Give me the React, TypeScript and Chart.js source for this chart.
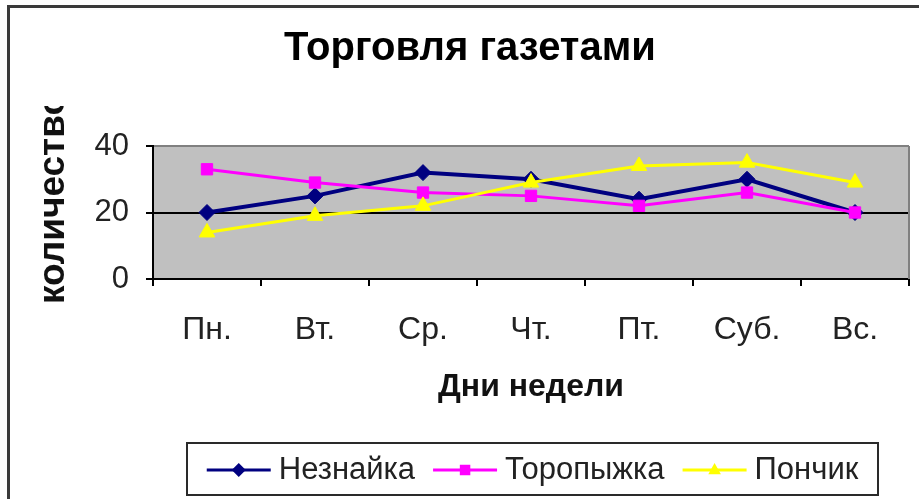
import React, { useEffect, useRef } from "react";
import { Chart, registerables } from "chart.js";

Chart.register(...registerables);

const TITLE = "Торговля газетами";
const X_TITLE = "Дни недели";
const Y_TITLE = "количество";
const DAYS = ["Пн.", "Вт.", "Ср.", "Чт.", "Пт.", "Суб.", "Вс."];
const SERIES_NAMES = ["Незнайка", "Торопыжка", "Пончик"];
const NEZNAYKA = [20, 25, 32, 30, 24, 30, 20];
const TOROPYZHKA = [33, 29, 26, 25, 22, 26, 20];
const PONCHIK = [14, 19, 22, 29, 34, 35, 29];
const Y_MIN = 0;
const Y_MAX = 40;
const Y_STEP = 20;

const FONT = '"Liberation Sans", Arial, sans-serif';

function drawMarker(ctx: CanvasRenderingContext2D, style: string, cx: number, cy: number, r: number, color: string) {
  ctx.save();
  ctx.fillStyle = color;
  ctx.beginPath();
  if (style === "rectRot") {
    ctx.moveTo(cx, cy - r);
    ctx.lineTo(cx + r, cy);
    ctx.lineTo(cx, cy + r);
    ctx.lineTo(cx - r, cy);
    ctx.closePath();
  } else if (style === "rect") {
    ctx.rect(cx - r * 0.75, cy - r * 0.75, r * 1.5, r * 1.5);
  } else {
    ctx.moveTo(cx, cy - r);
    ctx.lineTo(cx + r * 0.9, cy + r * 0.6);
    ctx.lineTo(cx - r * 0.9, cy + r * 0.6);
    ctx.closePath();
  }
  ctx.fill();
  ctx.restore();
}

const decorPlugin = {
  id: "decor",
  beforeDraw(chart: any) {
    const { ctx, chartArea } = chart;
    ctx.save();
    ctx.fillStyle = "#ffffff";
    ctx.fillRect(0, 0, chart.width, chart.height);
    ctx.fillStyle = "#c0c0c0";
    ctx.fillRect(chartArea.left, chartArea.top, chartArea.right - chartArea.left, chartArea.bottom - chartArea.top);
    // outer frame
    ctx.strokeStyle = "#3a3a3a";
    ctx.lineWidth = 3;
    ctx.beginPath();
    ctx.moveTo(8.5, chart.height);
    ctx.lineTo(8.5, 6.5);
    ctx.lineTo(chart.width, 6.5);
    ctx.stroke();
    ctx.restore();
  },
  beforeDatasetsDraw(chart: any) {
    const { ctx, chartArea } = chart;
    ctx.save();
    ctx.strokeStyle = "#808080";
    ctx.lineWidth = 2;
    ctx.beginPath();
    ctx.moveTo(chartArea.right, chartArea.top);
    ctx.lineTo(chartArea.right, chartArea.bottom);
    ctx.stroke();
    ctx.restore();
  },
  afterDraw(chart: any) {
    const ctx: CanvasRenderingContext2D = chart.ctx;
    // chart title
    ctx.save();
    ctx.font = `bold 40px ${FONT}`;
    ctx.textAlign = "center";
    ctx.textBaseline = "middle";
    ctx.fillStyle = "#000";
    ctx.fillText(TITLE, 470, 49);
    ctx.restore();

    // y axis title, clipped like the original
    ctx.save();
    ctx.beginPath();
    ctx.rect(0, 106, 150, 400);
    ctx.clip();
    ctx.translate(54, 304);
    ctx.rotate(-Math.PI / 2);
    ctx.font = `bold 37px ${FONT}`;
    ctx.textAlign = "left";
    ctx.textBaseline = "middle";
    ctx.fillStyle = "#111";
    ctx.fillText(Y_TITLE, 0, 0);
    ctx.restore();

    // legend
    const l = 187, t = 443, r = 878, b = 495;
    ctx.save();
    ctx.strokeStyle = "#2a2a2a";
    ctx.lineWidth = 2;
    ctx.strokeRect(l, t, r - l, b - t);
    ctx.font = `31px ${FONT}`;
    const datasets = chart.data.datasets;
    const lineLen = 64, gapText = 8, gapItem = 18;
    const widths = datasets.map((d: any) => ctx.measureText(d.label).width);
    const total = widths.reduce((a: number, w: number) => a + w + lineLen + gapText, 0) + gapItem * (datasets.length - 1);
    let x = (l + r) / 2 - total / 2;
    const cy = (t + b) / 2 + 1;
    datasets.forEach((d: any, i: number) => {
      ctx.strokeStyle = d.borderColor;
      ctx.lineWidth = 3;
      ctx.beginPath();
      ctx.moveTo(x, cy);
      ctx.lineTo(x + lineLen, cy);
      ctx.stroke();
      drawMarker(ctx, d.pointStyle, x + lineLen / 2, cy, 7, d.borderColor);
      ctx.fillStyle = "#222";
      ctx.textAlign = "left";
      ctx.textBaseline = "middle";
      ctx.fillText(d.label, x + lineLen + gapText, cy);
      x += lineLen + gapText + widths[i] + gapItem;
    });
    ctx.restore();
  },
};

export default function App() {
  const ref = useRef<HTMLCanvasElement | null>(null);

  useEffect(() => {
    if (!ref.current) return;
    const chart = new Chart(ref.current, {
      type: "line",
      data: {
        labels: DAYS,
        datasets: [
          {
            label: SERIES_NAMES[0],
            data: NEZNAYKA,
            borderColor: "#000080",
            backgroundColor: "#000080",
            borderWidth: 4,
            pointStyle: "rectRot",
            pointRadius: 8,
            pointBorderWidth: 1,
            order: 3,
          },
          {
            label: SERIES_NAMES[1],
            data: TOROPYZHKA,
            borderColor: "#ff00ff",
            backgroundColor: "#ff00ff",
            borderWidth: 3,
            pointStyle: "rect",
            pointRadius: 8,
            pointBorderWidth: 1,
            order: 2,
          },
          {
            label: SERIES_NAMES[2],
            data: PONCHIK,
            borderColor: "#ffff00",
            backgroundColor: "#ffff00",
            borderWidth: 3,
            pointStyle: "triangle",
            pointRadius: 9,
            pointBorderWidth: 1,
            order: 1,
          },
        ],
      },
      options: {
        animation: false,
        responsive: true,
        maintainAspectRatio: false,
        layout: { padding: { left: 0, right: 7, top: 146, bottom: 93 } },
        plugins: {
          legend: { display: false },
          tooltip: { enabled: false },
          title: { display: false },
        },
        scales: {
          x: {
            type: "category",
            offset: true,
            grid: {
              offset: true,
              drawOnChartArea: false,
              drawTicks: true,
              tickLength: 7,
              color: "#000",
              lineWidth: 2,
            },
            border: { display: true, color: "#000", width: 2 },
            ticks: {
              color: "#222",
              font: { family: FONT, size: 32 },
              padding: 25,
              maxRotation: 0,
              autoSkip: false,
            },
            title: {
              display: true,
              text: X_TITLE,
              color: "#111",
              font: { family: FONT, size: 32, weight: "bold", lineHeight: 1.2 },
              padding: { top: 0, bottom: 0 },
            },
            afterFit: (scale: any) => {
              scale.height = 127;
            },
          },
          y: {
            min: Y_MIN,
            max: Y_MAX,
            ticks: {
              stepSize: Y_STEP,
              color: "#222",
              font: { family: FONT, size: 31 },
              padding: 17,
            },
            grid: {
              color: (c: any) =>
                c.tick && c.tick.value === 20 ? "#000" : c.tick && c.tick.value === 40 ? "#808080" : "rgba(0,0,0,0)",
              tickColor: "#000",
              lineWidth: 2,
              tickLength: 7,
              drawTicks: true,
            },
            border: { display: true, color: "#000", width: 2 },
            afterFit: (scale: any) => {
              scale.width = 153;
            },
          },
        },
      },
      plugins: [decorPlugin],
    } as any);
    return () => chart.destroy();
  }, []);

  return (
    <div style={{ position: "fixed", left: 0, top: 0, width: 919, height: 499, background: "#fff" }}>
      <canvas ref={ref} />
    </div>
  );
}
